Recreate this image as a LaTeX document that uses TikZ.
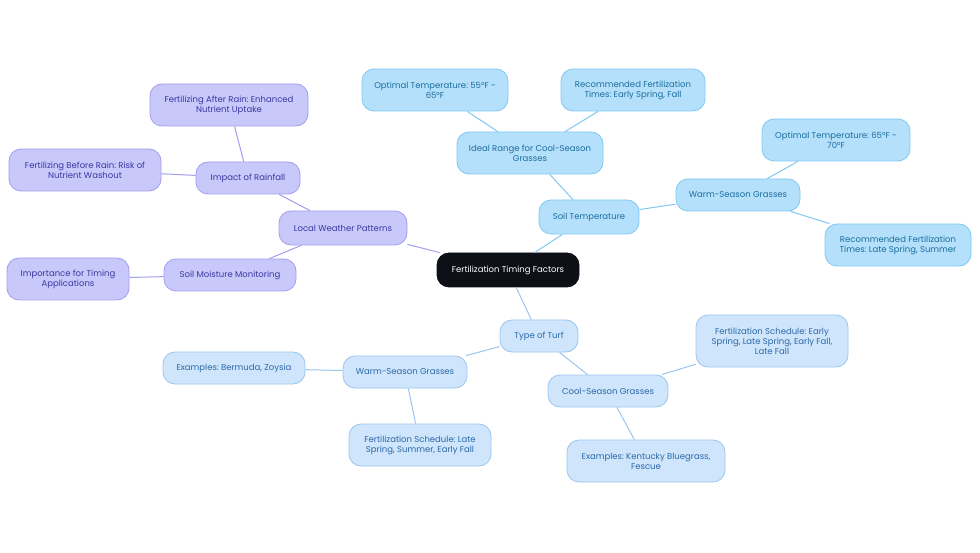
\documentclass[tikz,border=0pt]{standalone}
\usepackage{fontspec}
\setmainfont{Poppins}
\definecolor{bfill}{HTML}{B5E0FB}\definecolor{bdraw}{HTML}{7FC8F3}\definecolor{btext}{HTML}{1A6E9E}
\definecolor{pfill}{HTML}{C9C8FA}\definecolor{pdraw}{HTML}{A29EEE}\definecolor{ptext}{HTML}{3A37A0}
\definecolor{lfill}{HTML}{CFE5FB}\definecolor{ldraw}{HTML}{9CC6EE}\definecolor{ltext}{HTML}{2B68A8}
\definecolor{cfill}{HTML}{0D1117}
\tikzset{
 base/.style={rounded corners=12pt,draw,line width=0.8pt,align=center,font=\fontsize{8.5}{10}\selectfont\frenchspacing,inner sep=0pt},
 bn/.style={base,fill=bfill,draw=bdraw,text=btext},
 pn/.style={base,fill=pfill,draw=pdraw,text=ptext},
 ln/.style={base,fill=lfill,draw=ldraw,text=ltext},
 be/.style={draw=bdraw,line width=1pt},
 pe/.style={draw=pdraw,line width=1pt},
 le/.style={draw=ldraw,line width=1pt},
}
\newcommand{\nd}[6]{\node[#1,minimum width=#4pt,minimum height=#5pt] (#2) at (#3) {#6};}
\begin{document}
\begin{tikzpicture}[x=1pt,y=-1pt]
\useasboundingbox[fill=white] (0,0) rectangle (980,553);
\nd{base,fill=cfill,draw=cfill,text=white}{c}{508,270}{142}{34}{Fertilization Timing Factors}
\nd{pn}{lw}{343,228}{128}{34}{Local Weather Patterns}
\nd{pn}{ir}{248,178}{104}{32}{Impact of Rainfall}
\nd{pn}{far}{229,105}{158}{42}{Fertilizing After Rain: Enhanced\\Nutrient Uptake}
\nd{pn}{fbr}{85,170}{152}{42}{Fertilizing Before Rain: Risk of\\Nutrient Washout}
\nd{pn}{smm}{230,275}{132}{32}{Soil Moisture Monitoring}
\nd{pn}{imp}{68,279}{122}{42}{Importance for Timing\\Applications}
\nd{bn}{st}{589,217}{100}{34}{Soil Temperature}
\nd{bn}{ideal}{530,153}{146}{42}{Ideal Range for Cool-Season\\Grasses}
\nd{bn}{o55}{435,90}{146}{42}{Optimal Temperature: 55°F -\\65°F}
\nd{bn}{rf}{633,90}{144}{42}{Recommended Fertilization\\Times: Early Spring, Fall}
\nd{bn}{wsg}{738,195}{124}{32}{Warm-Season Grasses}
\nd{bn}{o65}{836,140}{148}{42}{Optimal Temperature: 65°F -\\70°F}
\nd{bn}{rls}{898,245}{146}{42}{Recommended Fertilization\\Times: Late Spring, Summer}
\nd{ln}{tt}{539,336}{78}{32}{Type of Turf}
\nd{ln}{wsb}{405,372}{124}{32}{Warm-Season Grasses}
\nd{ln}{eb}{234,368}{142}{32}{Examples: Bermuda, Zoysia}
\nd{ln}{fsl}{420,445}{142}{42}{Fertilization Schedule: Late\\Spring, Summer, Early Fall}
\nd{ln}{cs}{608,391}{120}{32}{Cool-Season Grasses}
\nd{ln}{fse}{772,341}{152}{52}{Fertilization Schedule: Early\\Spring, Late Spring, Early Fall,\\Late Fall}
\nd{ln}{ek}{646,461}{158}{42}{Examples: Kentucky Bluegrass,\\Fescue}
\draw[pe] (c)--(lw); \draw[pe] (lw)--(ir); \draw[pe] (ir)--(far); \draw[pe] (ir)--(fbr);
\draw[pe] (lw)--(smm); \draw[pe] (smm)--(imp);
\draw[be] (c)--(st); \draw[be] (st)--(ideal); \draw[be] (ideal)--(o55); \draw[be] (ideal)--(rf);
\draw[be] (st)--(wsg); \draw[be] (wsg)--(o65); \draw[be] (wsg)--(rls);
\draw[le] (c)--(tt); \draw[le] (tt)--(wsb); \draw[le] (wsb)--(eb); \draw[le] (wsb)--(fsl);
\draw[le] (tt)--(cs); \draw[le] (cs)--(fse); \draw[le] (cs)--(ek);
\end{tikzpicture}
\end{document}
